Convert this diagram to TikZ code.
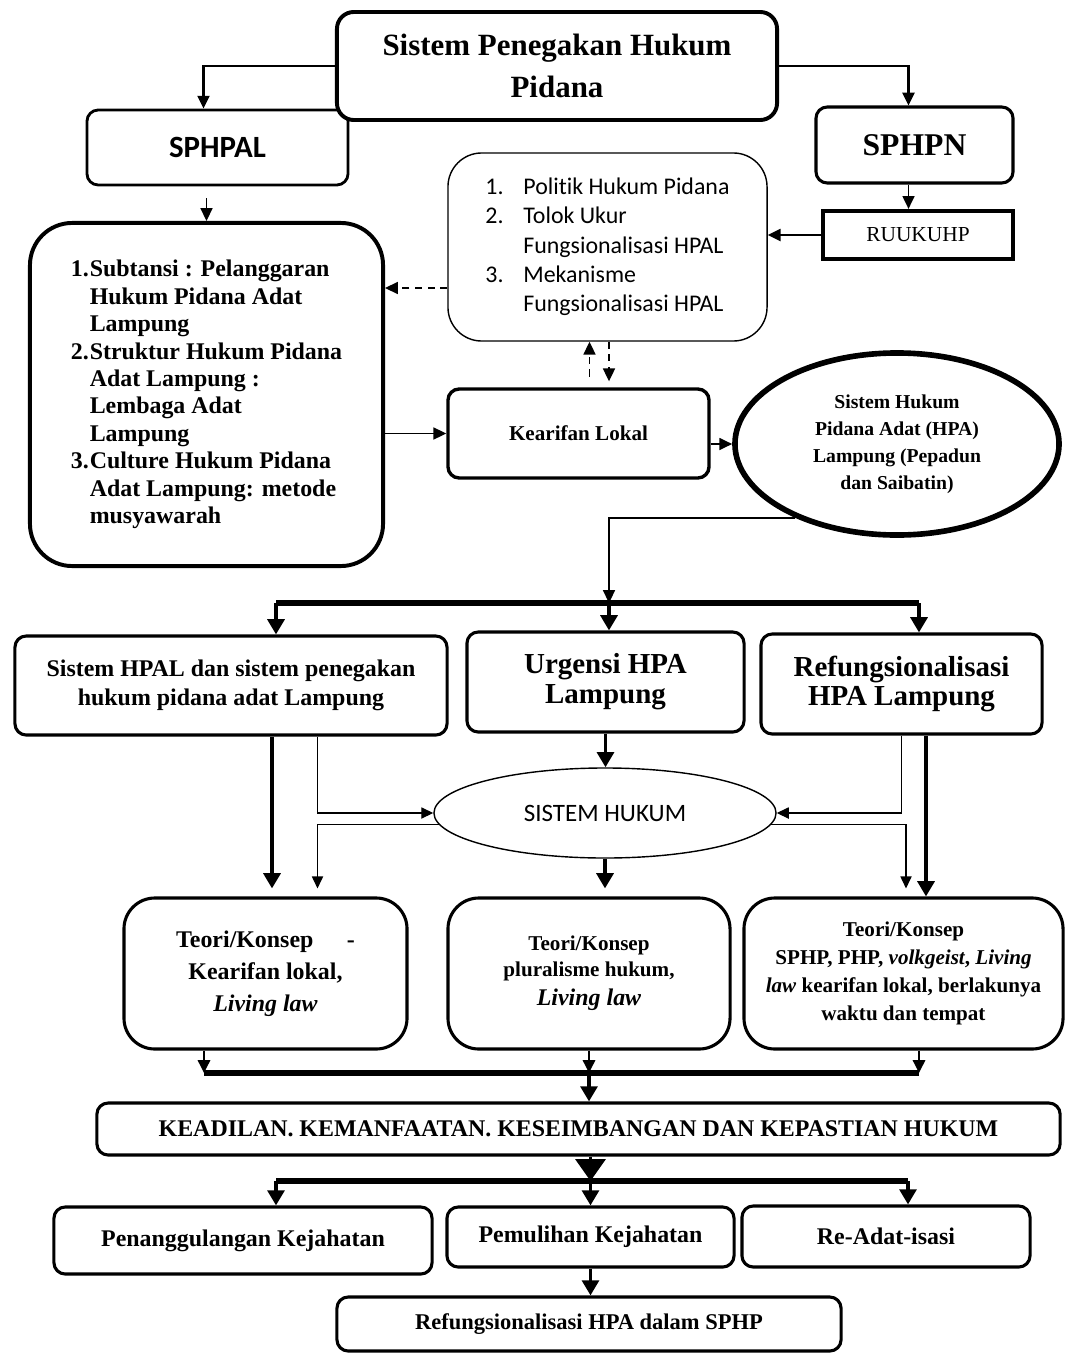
\documentclass[tikz,border=0pt]{standalone}
\usepackage{fontspec}
\setmainfont{Liberation Serif}
\newfontfamily\calibri[Ligatures=NoCommon]{Carlito}
\usetikzlibrary{arrows.meta,positioning,calc,shapes.geometric}

\begin{document}
\begin{tikzpicture}[
      x=0.025cm, y=-0.025cm,
      box/.style={draw=black, fill=white, rounded corners=8pt, line width=2.2pt, align=center, inner sep=2pt},
      thinbox/.style={draw=black, fill=white, rounded corners=24pt, line width=1pt, inner sep=2pt},
      oval/.style={draw=black, fill=white, ellipse, inner sep=0pt, align=center},
      arr/.style={-{Triangle[length=0.32cm, width=0.3cm]}, line width=1pt},
      thinarr/.style={-{Triangle[length=0.3cm, width=0.28cm]}, line width=0.8pt},
      fatarr/.style={-{Triangle[length=0.38cm, width=0.42cm]}, line width=2.6pt},
      bigarr/.style={-{Triangle[length=0.55cm, width=0.75cm]}, line width=2.6pt},
      dasharr/.style={-{Triangle[length=0.32cm, width=0.3cm]}, line width=1pt, dash pattern=on 5pt off 4pt},
      bar/.style={line width=4.4pt}
  ]
      \useasboundingbox (0,0) rectangle (1067,1353);

      % TOP
      \node[box, minimum width=6.525cm, minimum height=1.875cm, line width=2pt, font=\calibri\fontsize{22pt}{26pt}\selectfont\bfseries] (sphpal) at (217.5,147.5) {SPHPAL};
      \node[box, rounded corners=12pt, line width=2.8pt, minimum width=11cm, minimum height=2.7cm, font=\fontsize{22pt}{30pt}\selectfont\bfseries] (title) at (557,66) {Sistem Penegakan Hukum\\Pidana};
      \node[box, minimum width=4.925cm, minimum height=1.9cm, font=\fontsize{22.5pt}{27pt}\selectfont\bfseries] (sphpn) at (914.5,145) {SPHPN};
      \node[draw, fill=white, line width=3pt, minimum width=4.75cm, minimum height=1.2cm, font=\fontsize{15.2pt}{18pt}\selectfont] (ruukuhp) at (918,235) {RUUKUHP};

      \node[thinbox, minimum width=7.975cm, minimum height=4.7cm, align=left, font=\calibri\fontsize{17pt}{20.8pt}\selectfont] (politik) at (607.5,247)
        {\makebox[27pt][l]{1.}Politik Hukum Pidana\\
         \makebox[27pt][l]{2.}Tolok Ukur\\
         \hspace*{27pt}Fungsionalisasi HPAL\\
         \makebox[27pt][l]{3.}Mekanisme\\
         \hspace*{27pt}Fungsionalisasi HPAL};

      \node[box, rounded corners=30pt, line width=2.8pt, minimum width=8.825cm, minimum height=8.575cm, align=left, font=\fontsize{17pt}{19.5pt}\selectfont\bfseries] (subst) at (206.5,394.5)
        {\makebox[13.5pt][l]{1.}Subtansi : Pelanggaran\\
         \hspace*{13.5pt}Hukum Pidana Adat\\
         \hspace*{13.5pt}Lampung\\
         \makebox[13.5pt][l]{2.}Struktur Hukum Pidana\\
         \hspace*{13.5pt}Adat Lampung :\\
         \hspace*{13.5pt}Lembaga Adat\\
         \hspace*{13.5pt}Lampung\\
         \makebox[13.5pt][l]{3.}Culture Hukum Pidana\\
         \hspace*{13.5pt}Adat Lampung: metode\\
         \hspace*{13.5pt}musyawarah};

      \node[box, line width=2.4pt, minimum width=6.525cm, minimum height=2.225cm, font=\fontsize{15pt}{18pt}\selectfont\bfseries] (kearifan) at (578.5,433.5) {Kearifan Lokal};
      \node[oval, line width=4pt, minimum width=8.1cm, minimum height=4.55cm, font=\fontsize{14pt}{19.2pt}\selectfont\bfseries] (hpa) at (897,444) {Sistem Hukum\\Pidana Adat (HPA)\\Lampung (Pepadun\\dan Saibatin)};

      \draw[arr, line width=1.6pt] (title.west) -| ($(sphpal.north)+(-14,0)$);
      \draw[arr, line width=1.6pt] (title.east) -| ($(sphpn.north)+(-6,0)$);
      \draw[arr, shorten <=0.3cm] (subst.north |- sphpal.south) -- (subst.north);
      \coordinate (pn) at ($(sphpn.south)+(-6,0)$);
      \draw[arr] (pn) -- (pn |- ruukuhp.north);
      \draw[arr, line width=1.4pt] (ruukuhp.west) -- (ruukuhp.west -| politik.east);
      \coordinate (pd) at ($(politik.west)+(0,41)$);
      \draw[dasharr] (pd) -- (pd -| subst.east);
      \coordinate (up) at ($(kearifan.north)+(11,0)$);
      \coordinate (dn) at ($(politik.south)+(1.5,0)$);
      \draw[dasharr, shorten <=0.27cm] (up) -- (up |- politik.south);
      \draw[dasharr, shorten >=0.15cm] (dn) -- (dn |- kearifan.north);
      \draw[arr] (subst.east |- kearifan.west) -- (kearifan.west);
      \draw[arr] (kearifan.east |- hpa.west) -- (hpa.west);

      % MIDDLE
      \node[box, minimum width=10.8cm, minimum height=2.475cm, font=\fontsize{17pt}{20.6pt}\selectfont\bfseries] (hpal) at (231,685.5) {Sistem HPAL dan sistem penegakan\\hukum pidana adat Lampung};
      \node[box, minimum width=6.925cm, minimum height=2.5cm, font=\fontsize{20.6pt}{21.3pt}\selectfont\bfseries] (urgensi) at (605.5,682) {Urgensi HPA\\Lampung};
      \node[box, minimum width=7.025cm, minimum height=2.5cm, font=\fontsize{20.6pt}{21.3pt}\selectfont\bfseries] (refung) at (901.5,684) {Refungsionalisasi\\HPA Lampung};
      \node[oval, line width=1pt, minimum width=8.55cm, minimum height=2.25cm, font=\calibri\fontsize{17.8pt}{21pt}\selectfont] (hukum) at (605,813) {SISTEM HUKUM};

      \node[box, rounded corners=22pt, minimum width=7.075cm, minimum height=3.775cm, font=\fontsize{17pt}{22.8pt}\selectfont\bfseries] (t1) at (265.5,973.5) {Teori/Konsep\hspace{1.4em}-\\Kearifan lokal,\\\textit{Living law}};
      \node[box, rounded corners=22pt, minimum width=7.05cm, minimum height=3.775cm, font=\fontsize{15pt}{18pt}\selectfont\bfseries] (t2) at (589,973.5) {Teori/Konsep\\pluralisme hukum,\\[3pt]{\fontsize{17pt}{20pt}\selectfont\itshape Living law}};
      \node[box, rounded corners=22pt, minimum width=7.975cm, minimum height=3.775cm, font=\fontsize{15pt}{20pt}\selectfont\bfseries] (t3) at (903.5,973.5) {Teori/Konsep\\SPHP, PHP, \textit{volkgeist}, \textit{Living}\\\textit{law} kearifan lokal, berlakunya\\waktu dan tempat};

      \coordinate (sL) at (276,603);
      \coordinate (sM) at (609,603);
      \coordinate (sR) at (919,603);
      \draw[arr] (hpa.216) -| (sM);
      \draw[fatarr] (sL) -- (sL |- hpal.north);
      \draw[fatarr] (sM) -- (sM |- urgensi.north);
      \draw[fatarr] (sR) -- (sR |- refung.north);
      \draw[bar] (sL) -- (sR);

      \coordinate (lA) at ($(t1.north)+(6.5,0)$);
      \coordinate (lB) at ($(t1.north)+(52,0)$);
      \draw[fatarr, shorten >=0.2cm] (lA |- hpal.south) -- (lA);
      \draw[thinarr] (lB |- hpal.south) |- (hukum.west);
      \draw[thinarr, shorten >=0.2cm] (hukum.184) -| (lB);
      \draw[fatarr] (urgensi.south) -- (urgensi.south |- hukum.north);
      \draw[fatarr, shorten >=0.2cm] (hukum.south) -- (hukum.south |- t2.north);
      \coordinate (rA) at ($(t3.north)+(2.5,0)$);
      \coordinate (rB) at ($(t3.north)+(22.5,0)$);
      \draw[thinarr] (refung.south) |- (hukum.east);
      \draw[thinarr, shorten >=0.2cm] (hukum.356) -| (rA);
      \draw[fatarr] (rB |- refung.south) -- (rB);

      % BOTTOM
      \node[box, minimum width=24.075cm, minimum height=1.3cm, font=\fontsize{17pt}{20pt}\selectfont\bfseries] (keadilan) at (578.5,1129) {KEADILAN. KEMANFAATAN. KESEIMBANGAN DAN KEPASTIAN HUKUM};
      \node[box, minimum width=9.45cm, minimum height=1.675cm, font=\fontsize{17pt}{20pt}\selectfont\bfseries] (pen) at (243,1240.5) {Penanggulangan Kejahatan};
      \node[box, minimum width=7.175cm, minimum height=1.5cm, font=\fontsize{17pt}{20pt}\selectfont\bfseries] (pem) at (590.5,1237) {Pemulihan Kejahatan};
      \node[box, minimum width=7.2cm, minimum height=1.525cm, font=\fontsize{17pt}{20pt}\selectfont\bfseries] (readat) at (886,1236.5) {Re-Adat-isasi};
      \node[box, minimum width=12.6cm, minimum height=1.35cm, font=\fontsize{16pt}{19pt}\selectfont\bfseries] (reff) at (589,1324) {Refungsionalisasi HPA dalam SPHP};

      \coordinate (jL) at (204,1073);
      \coordinate (jR) at (919,1073);
      \draw[arr, line width=2pt] (jL |- t1.south) -- (jL);
      \draw[arr, line width=2pt] (t2.south) -- (t2.south |- jL);
      \draw[arr, line width=2pt] (jR |- t3.south) -- (jR);
      \draw[bar] (jL) -- (jR);
      \draw[fatarr] (t2.south |- jL) -- (t2.south |- keadilan.north);

      \coordinate (kL) at (276,1181);
      \coordinate (kR) at (908,1181);
      \draw[bigarr] (pem.north |- keadilan.south) -- (pem.north |- kL);
      \draw[bar] (kL) -- (kR);
      \draw[fatarr] (kL) -- (kL |- pen.north);
      \draw[fatarr] (pem.north |- kL) -- (pem.north);
      \draw[fatarr] (kR) -- (kR |- readat.north);
      \draw[fatarr] (pem.south) -- (pem.south |- reff.north);
  \end{tikzpicture}
\end{document}
